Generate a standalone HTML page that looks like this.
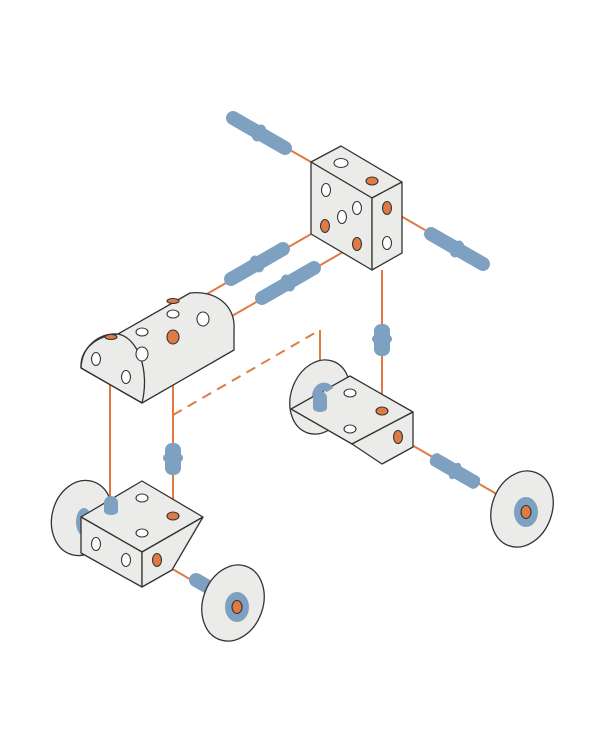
<!DOCTYPE html>
<html><head><style>html,body{margin:0;padding:0;background:#fff}svg{display:block}</style></head>
<body>
<svg width="600" height="750" viewBox="0 0 600 750" xmlns="http://www.w3.org/2000/svg">
<defs>
<g id="pin"><line x1="-30" y1="0" x2="30" y2="0" stroke="#7ea0c1" stroke-width="14" stroke-linecap="round"/><rect x="-5" y="-9" width="10" height="18" rx="5" fill="#7ea0c1"/></g>
</defs>
<g stroke="#e07a45" stroke-width="2" fill="none">
<line x1="290" y1="150" x2="311" y2="162"/>
<line x1="387" y1="208" x2="425" y2="230"/>
<line x1="325" y1="226" x2="200" y2="298"/>
<line x1="357" y1="244" x2="232" y2="316"/>
<line x1="382" y1="270" x2="382" y2="411"/>
<line x1="110" y1="385" x2="110" y2="510"/>
<line x1="173" y1="385" x2="173" y2="516"/>
<line x1="320" y1="330" x2="320" y2="405"/>
<line x1="173" y1="415" x2="320" y2="330" stroke-dasharray="10 7"/>
<line x1="398" y1="437" x2="500" y2="496"/>
<line x1="157" y1="560" x2="236" y2="606"/>
</g>
<use href="#pin" transform="translate(259,133) rotate(30)"/>
<use href="#pin" transform="translate(457,249) rotate(30)"/>
<use href="#pin" transform="translate(257,264) rotate(-30)"/>
<use href="#pin" transform="translate(288,283) rotate(-30)"/>
<use href="#pin" transform="translate(455,471) rotate(30) scale(0.75,1)"/>
<g fill="#7ea0c1"><rect x="374" y="324" width="16" height="32" rx="7"/><rect x="372" y="335" width="20" height="8" rx="4"/>
<rect x="165" y="443" width="16" height="32" rx="7"/><rect x="163" y="454" width="20" height="8" rx="4"/></g>
<line x1="196" y1="580" x2="210" y2="588" stroke="#7ea0c1" stroke-width="14" stroke-linecap="round"/>

<g stroke="#333" stroke-width="1.3" fill="#ebebe9" stroke-linejoin="round">
<polygon points="311,162 341,146 402,182 372,198"/>
<polygon points="311,162 372,198 372,270 311,234"/>
<polygon points="372,198 402,182 402,253 372,270"/>
<path d="M81,368 C80,350 95,336 118,334 L190,293 C215,290 236,305 234,330 L234,350 L142,403 Z"/>
<path d="M81,368 C82,345 100,333 118,334 C138,338 150,370 142,403" fill="none"/>
<line x1="81" y1="368" x2="142" y2="403"/>
<ellipse cx="320" cy="397" rx="29" ry="38" transform="rotate(20 320 397)"/>
<polygon points="291,409 350,376 413,412 352,444"/>
<polygon points="352,444 413,412 413,447 382,464"/>
<ellipse cx="82" cy="518" rx="30" ry="38" transform="rotate(15 82 518)"/>
</g>
<ellipse cx="84" cy="522" rx="8" ry="14" fill="#7ea0c1"/>
<g stroke="#333" stroke-width="1.3" fill="#ebebe9" stroke-linejoin="round">
<polygon points="81,517 142,481 203,517 142,552"/>
<polygon points="81,517 142,552 142,587 81,553"/>
<polygon points="142,552 203,517 172,570 142,587"/>
<ellipse cx="522" cy="509" rx="30" ry="39" transform="rotate(20 522 509)"/>
<ellipse cx="233" cy="603" rx="30" ry="39" transform="rotate(20 233 603)"/>
</g>
<g fill="#7ea0c1"><ellipse cx="526" cy="512" rx="12" ry="15"/><ellipse cx="237" cy="607" rx="12" ry="15"/>
<path d="M104,511 v-8 a7,7 0 0 1 14,0 v8 a7,4 0 0 1 -14,0z"/>
<path d="M313,408 v-10 a7,7 0 0 1 14,0 v10 a7,4 0 0 1 -14,0z"/>
<path d="M316,396 a8,10 0 0 1 14,-6" stroke="#7ea0c1" stroke-width="8" fill="none"/></g>
<g stroke="#333" stroke-width="1.1" fill="#fff">
<ellipse cx="341" cy="163" rx="7" ry="4.5"/>
<ellipse cx="326" cy="190" rx="4.5" ry="6.5"/>
<ellipse cx="357" cy="208" rx="4.5" ry="6.5"/>
<ellipse cx="342" cy="217" rx="4.5" ry="6.5"/>
<ellipse cx="387" cy="243" rx="4.5" ry="6.5"/>
<ellipse cx="173" cy="314" rx="6" ry="4"/>
<ellipse cx="142" cy="332" rx="6" ry="4"/>
<ellipse cx="142" cy="354" rx="6" ry="7"/>
<ellipse cx="203" cy="319" rx="6" ry="7"/>
<ellipse cx="96" cy="359" rx="4.5" ry="6.5"/>
<ellipse cx="126" cy="377" rx="4.5" ry="6.5"/>
<ellipse cx="350" cy="393" rx="6" ry="4"/>
<ellipse cx="350" cy="429" rx="6" ry="4"/>
<ellipse cx="142" cy="498" rx="6" ry="4"/>
<ellipse cx="142" cy="533" rx="6" ry="4"/>
<ellipse cx="96" cy="544" rx="4.5" ry="6.5"/>
<ellipse cx="126" cy="560" rx="4.5" ry="6.5"/>
</g>
<g stroke="#333" stroke-width="1.1" fill="#e07a45">
<ellipse cx="372" cy="181" rx="6" ry="4"/>
<ellipse cx="387" cy="208" rx="4.5" ry="6.5"/>
<ellipse cx="325" cy="226" rx="4.5" ry="6.5"/>
<ellipse cx="357" cy="244" rx="4.5" ry="6.5"/>
<ellipse cx="173" cy="337" rx="6" ry="7"/>
<ellipse cx="173" cy="301" rx="6" ry="2.5"/>
<ellipse cx="111" cy="337" rx="6" ry="2.5"/>
<ellipse cx="382" cy="411" rx="6" ry="4"/>
<ellipse cx="398" cy="437" rx="4.5" ry="6.5"/>
<ellipse cx="173" cy="516" rx="6" ry="4"/>
<ellipse cx="157" cy="560" rx="4.5" ry="6.5"/>
<ellipse cx="526" cy="512" rx="5" ry="6.5"/>
<ellipse cx="237" cy="607" rx="5" ry="6.5"/>
</g>
</svg>
</body></html>
